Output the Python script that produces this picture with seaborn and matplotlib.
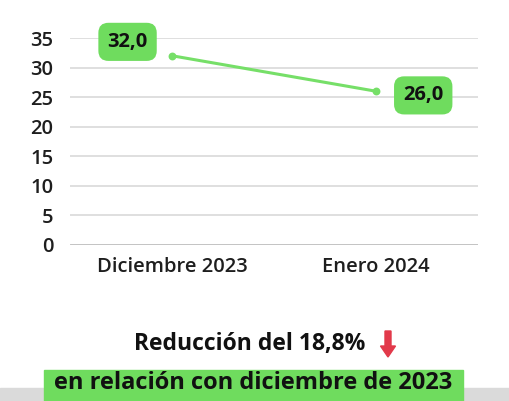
import matplotlib
matplotlib.use("Agg")
import matplotlib.pyplot as plt
from matplotlib.patches import Rectangle, FancyArrow
import seaborn as sns
import pandas as pd

categories = ["Diciembre 2023", "Enero 2024"]
values = [32.0, 26.0]
value_labels = ["32,0", "26,0"]
yticks = [0, 5, 10, 15, 20, 25, 30, 35]
title_text = "Reducción del 18,8%"
subtitle_text = "en relación con diciembre de 2023"

sns.set_theme(style="white")
plt.rcParams['font.family'] = ['Open Sans', 'DejaVu Sans']

GREEN_LINE = "#76df68"
GREEN_BOX = "#6fdc5e"

df = pd.DataFrame({"mes": categories, "valor": values})

fig = plt.figure(figsize=(5.10, 4.01), dpi=100)
ax = fig.add_axes([70/510, 156/401, 408/510, 207/401])

sns.pointplot(data=df, x="mes", y="valor", color=GREEN_LINE, ax=ax,
              markersize=4, linewidth=2.2, errorbar=None)

ax.set_ylim(0, 35)
ax.set_xlim(-0.5, 1.5)
ax.set_yticks(yticks)
ax.set_yticklabels([str(t) for t in yticks], fontsize=14.5, fontweight='semibold', color="#1e1e1e")
ax.tick_params(axis='y', length=0, pad=12)
ax.tick_params(axis='x', length=0, pad=9, labelsize=14.5)
for lbl in ax.get_xticklabels():
    lbl.set_fontweight('semibold')
    lbl.set_color("#1e1e1e")
ax.set_xlabel("")
ax.set_ylabel("")
for s in ax.spines.values():
    s.set_visible(False)
for t in yticks:
    ax.axhline(t, color="#bdbdbd" if t == 0 else "#dcdcdc",
               lw=2.0 if t == 0 else 1.3, zorder=0)

offsets = [(-32, 10), (34, -3)]
for i, (v, lab) in enumerate(zip(values, value_labels)):
    ax.annotate(lab, xy=(i, v), xytext=offsets[i], textcoords="offset points",
                ha="center", va="center", fontsize=14.5, fontweight="bold", color="#111111",
                bbox=dict(boxstyle="round,pad=0.45,rounding_size=0.5", fc=GREEN_BOX, ec="none"),
                annotation_clip=False)

# bottom gray band and green box
fig.patches.append(Rectangle((0, 0), 1, 13/401, transform=fig.transFigure,
                             color="#dadada", zorder=0))
fig.patches.append(Rectangle((44/510, 0), 419/510, 31/401, transform=fig.transFigure,
                             color=GREEN_BOX, zorder=1))
fig.text(250/510, 1 - 344/401, title_text, ha="center", va="center",
         fontsize=16.5, fontweight="bold", color="#111111")
fig.text(253/510, 1 - 383/401, subtitle_text, ha="center", va="center",
         fontsize=17, fontweight="bold", color="#111111", zorder=3)
fig.patches.append(FancyArrow(388/510, 1 - 331/401, 0, -26/401, width=6/510,
                              head_width=15/510, head_length=11/401,
                              length_includes_head=True, transform=fig.transFigure,
                              color="#e2394a", zorder=3))

fig.savefig("out.png", dpi=100)
